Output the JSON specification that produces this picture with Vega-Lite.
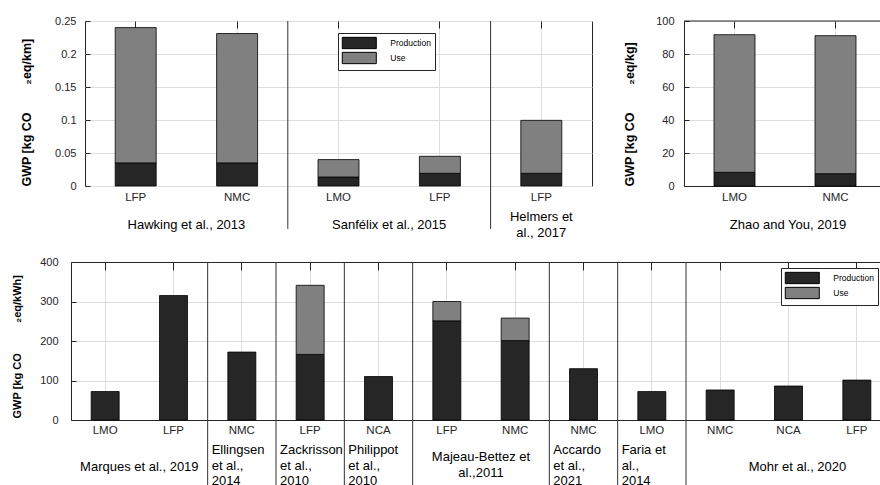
{
  "$schema": "https://vega.github.io/schema/vega-lite/v6.json",
  "padding": {"left": 11, "top": 14, "right": 0, "bottom": 0},
  "background": "white",
  "config": {
    "font": "Liberation Sans",
    "view": {"stroke": null},
    "axis": {"labelFont": "Liberation Sans", "titleFont": "Liberation Sans", "labelColor": "#262626", "titleColor": "#000000", "gridColor": "#dedede", "gridWidth": 1, "domainColor": "#262626", "tickColor": "#262626"},
    "legend": {"labelFont": "Liberation Sans"}
  },
  "datasets": {
    "tl": [
      {"key": "Hawking|LFP", "part": "Production", "v": 0.035},
      {"key": "Hawking|LFP", "part": "Use", "v": 0.205},
      {"key": "Hawking|NMC", "part": "Production", "v": 0.035},
      {"key": "Hawking|NMC", "part": "Use", "v": 0.196},
      {"key": "Sanfelix|LMO", "part": "Production", "v": 0.0136},
      {"key": "Sanfelix|LMO", "part": "Use", "v": 0.0264},
      {"key": "Sanfelix|LFP", "part": "Production", "v": 0.0192},
      {"key": "Sanfelix|LFP", "part": "Use", "v": 0.0258},
      {"key": "Helmers|LFP", "part": "Production", "v": 0.0192},
      {"key": "Helmers|LFP", "part": "Use", "v": 0.0803}
    ],
    "tlSep": [{"key": "Sanfelix|LMO"}, {"key": "Helmers|LFP"}],
    "tlG": [
      {"key": "Hawking|NMC", "g": "Hawking et al., 2013", "n": 2},
      {"key": "Sanfelix|LFP", "g": "Sanfélix et al., 2015", "n": 2},
      {"key": "Helmers|LFP", "g": "Helmers et\nal., 2017", "n": 1}
    ],
    "tr": [
      {"key": "Zhao|LMO", "part": "Production", "v": 8.3},
      {"key": "Zhao|LMO", "part": "Use", "v": 83.4},
      {"key": "Zhao|NMC", "part": "Production", "v": 7.5},
      {"key": "Zhao|NMC", "part": "Use", "v": 83.6}
    ],
    "trG": [{"key": "Zhao|NMC", "g": "Zhao and You, 2019", "n": 2}],
    "bt": [
      {"key": "Marques|LMO", "part": "Production", "v": 72},
      {"key": "Marques|LFP", "part": "Production", "v": 315},
      {"key": "Ellingsen|NMC", "part": "Production", "v": 172},
      {"key": "Zackrisson|LFP", "part": "Production", "v": 166},
      {"key": "Zackrisson|LFP", "part": "Use", "v": 175},
      {"key": "Philippot|NCA", "part": "Production", "v": 110},
      {"key": "Majeau|LFP", "part": "Production", "v": 251},
      {"key": "Majeau|LFP", "part": "Use", "v": 49},
      {"key": "Majeau|NMC", "part": "Production", "v": 201},
      {"key": "Majeau|NMC", "part": "Use", "v": 57},
      {"key": "Accardo|NMC", "part": "Production", "v": 130},
      {"key": "Faria|LMO", "part": "Production", "v": 72},
      {"key": "Mohr|NMC", "part": "Production", "v": 76},
      {"key": "Mohr|NCA", "part": "Production", "v": 86},
      {"key": "Mohr|LFP", "part": "Production", "v": 101}
    ],
    "btSep": [{"key": "Ellingsen|NMC"}, {"key": "Zackrisson|LFP"}, {"key": "Philippot|NCA"}, {"key": "Majeau|LFP"}, {"key": "Accardo|NMC"}, {"key": "Faria|LMO"}, {"key": "Mohr|NMC"}],
    "btG": [
      {"key": "Marques|LFP", "g": "Marques et al., 2019", "n": 2},
      {"key": "Ellingsen|NMC", "g": "Ellingsen\net al.,\n2014", "n": 1},
      {"key": "Zackrisson|LFP", "g": "Zackrisson\net al.,\n2010", "n": 1},
      {"key": "Philippot|NCA", "g": "Philippot\net al.,\n2010", "n": 1},
      {"key": "Majeau|NMC", "g": "Majeau-Bettez et\nal.,2011              ", "n": 2},
      {"key": "Accardo|NMC", "g": "Accardo\net al.,\n2021", "n": 1},
      {"key": "Faria|LMO", "g": "Faria et\nal.,\n2014", "n": 1},
      {"key": "Mohr|NCA", "g": "Mohr et al., 2020", "n": 3}
    ]
  },
  "resolve": {"legend": {"color": "independent"}, "scale": {"color": "independent"}},
  "spacing": 15,
  "vconcat": [
    {
      "spacing": 30,
      "resolve": {"legend": {"color": "independent"}, "scale": {"color": "independent"}},
      "hconcat": [
        {
          "width": 507,
          "height": 165,
          "view": {"stroke": "#262626"},
          "resolve": {"axis": {"x": "independent", "y": "independent"}},
          "layer": [
            {
              "data": {"name": "tl"},
              "mark": {"type": "bar", "size": 41, "stroke": "#000000", "strokeWidth": 0.8},
              "encoding": {
                "x": {"field": "key", "type": "nominal",
                  "scale": {"domain": ["Hawking|LFP", "Hawking|NMC", "Sanfelix|LMO", "Sanfelix|LFP", "Helmers|LFP"], "paddingInner": 0, "paddingOuter": 0},
                  "axis": {"orient": "bottom", "title": null, "labelExpr": "split(datum.label, '|')[1]", "labelAngle": 0, "labelPadding": 5, "labelFontSize": 11.5, "ticks": false, "domain": false, "grid": true}},
                "y": {"field": "v", "type": "quantitative", "stack": "zero",
                  "scale": {"domain": [0, 0.25], "nice": false},
                  "axis": {"values": [0, 0.05, 0.1, 0.15, 0.2, 0.25], "format": ".2~f", "labelOverlap": false, "labelFontSize": 11, "labelPadding": 9, "ticks": false, "domain": false, "grid": true,
                    "title": "GWP [kg CO\u00a0\u00a0\u00a0\u00a0\u00a0\u00a0\u00a0\u00a0\u2082eq/km]", "titleFontSize": 12.5, "titleFontWeight": "bold", "titleX": -59, "titleY": 165, "titleAlign": "left", "titleAngle": -90, "titleBaseline": "middle"}},
                "color": {"field": "part", "type": "nominal",
                  "scale": {"domain": ["Production", "Use"], "range": ["#262626", "#808080"]},
                  "legend": {"orient": "none", "legendX": 253, "legendY": 12, "title": null, "symbolType": "M-3,-1H3V1H-3Z", "symbolSize": 128.5, "symbolOffset": 11.3, "symbolStrokeColor": "#000000", "symbolStrokeWidth": 1, "labelFontSize": 8.5, "labelColor": "#000000", "labelOffset": 24.5, "strokeColor": "#262626", "fillColor": "#ffffff", "padding": 3.5, "rowPadding": -3.5, "labelExpr": "datum.label + '\u00a0\u00a0\u00a0\u00a0\u00a0\u00a0\u00a0\u00a0\u00a0\u00a0\u00a0\u00a0\u00a0\u00a0\u00a0\u00a0\u00a0'"}},
                "order": {"field": "part", "sort": "ascending"}
              }
            },
            {
              "data": {"name": "tlSep"},
              "mark": {"type": "rule", "color": "#333333", "strokeWidth": 1},
              "encoding": {
                "x": {"field": "key", "type": "nominal", "bandPosition": 0, "axis": null},
                "y": {"datum": 0.25,
                  "axis": {"orient": "left", "values": [0, 0.05, 0.1, 0.15, 0.2, 0.25], "title": null, "labels": false, "ticks": true, "tickSize": 5, "offset": -5, "domain": false, "grid": false}},
                "y2": {"datum": -0.065}
              }
            },
            {
              "data": {"name": "tlG"},
              "transform": [{"filter": "datum.n == 2"}],
              "mark": {"type": "text", "align": "center", "baseline": "middle", "fontSize": 13, "color": "#000000", "dy": 39},
              "encoding": {
                "x": {"field": "key", "type": "nominal", "bandPosition": 0,
                  "axis": {"orient": "top", "title": null, "labels": false, "ticks": true, "tickSize": 7, "offset": -7, "tickColor": "#262626", "domain": false, "grid": false}},
                "y": {"value": "height"},
                "text": {"field": "g"}
              }
            },
            {
              "data": {"name": "tlG"},
              "transform": [{"filter": "datum.n == 1"}],
              "mark": {"type": "text", "align": "center", "baseline": "middle", "fontSize": 13, "color": "#000000", "dy": 31, "lineBreak": "\n", "lineHeight": 16},
              "encoding": {
                "x": {"field": "key", "type": "nominal", "bandPosition": 0.5, "axis": null},
                "y": {"value": "height"},
                "text": {"field": "g"}
              }
            }
          ]
        },
        {
          "width": 196,
          "height": 165,
          "resolve": {"axis": {"x": "independent", "y": "independent"}},
          "layer": [
            {
              "data": {"name": "tr"},
              "mark": {"type": "bar", "size": 41, "stroke": "#000000", "strokeWidth": 0.8},
              "encoding": {
                "x": {"field": "key", "type": "nominal",
                  "scale": {"domain": ["Zhao|LMO", "Zhao|NMC"], "range": [0, 202], "paddingInner": 0, "paddingOuter": 0},
                  "axis": {"orient": "bottom", "title": null, "labelExpr": "split(datum.label, '|')[1]", "labelAngle": 0, "labelPadding": 5, "labelFontSize": 11.5, "ticks": false, "domain": true, "grid": true}},
                "y": {"field": "v", "type": "quantitative", "stack": "zero",
                  "scale": {"domain": [0, 100], "nice": false},
                  "axis": {"values": [0, 20, 40, 60, 80, 100], "format": "d", "labelOverlap": false, "labelFontSize": 11, "labelPadding": 10, "ticks": false, "domain": true, "grid": true,
                    "title": "GWP [kg CO\u00a0\u00a0\u00a0\u00a0\u00a0\u00a0\u00a0\u00a0\u2082eq/kg]", "titleFontSize": 12.5, "titleFontWeight": "bold", "titleX": -55, "titleY": 165, "titleAlign": "left", "titleAngle": -90, "titleBaseline": "middle"}},
                "color": {"field": "part", "type": "nominal",
                  "scale": {"domain": ["Production", "Use"], "range": ["#262626", "#808080"]},
                  "legend": null},
                "order": {"field": "part", "sort": "ascending"}
              }
            },
            {
              "data": {"values": [{}]},
              "mark": {"type": "rule", "color": "#262626", "strokeWidth": 1},
              "encoding": {"y": {"datum": 100,
                "axis": {"orient": "left", "values": [0, 20, 40, 60, 80, 100], "title": null, "labels": false, "ticks": true, "tickSize": 5, "offset": -5, "domain": false, "grid": false}}}
            },
            {
              "data": {"name": "trG"},
              "mark": {"type": "text", "align": "center", "baseline": "middle", "fontSize": 13, "color": "#000000", "dy": 39, "dx": 3},
              "encoding": {
                "x": {"field": "key", "type": "nominal", "bandPosition": 0,
                  "axis": {"orient": "top", "title": null, "labels": false, "ticks": true, "tickSize": 7, "offset": -7, "tickColor": "#262626", "domain": false, "grid": false}},
                "y": {"value": "height"},
                "text": {"field": "g"}
              }
            }
          ]
        }
      ]
    },
    {
      "width": 795,
      "height": 158,
      "resolve": {"axis": {"x": "independent", "y": "independent"}},
      "layer": [
        {
          "data": {"name": "bt"},
          "mark": {"type": "bar", "size": 28, "stroke": "#000000", "strokeWidth": 0.8},
          "encoding": {
            "x": {"field": "key", "type": "nominal",
              "scale": {"domain": ["Marques|LMO", "Marques|LFP", "Ellingsen|NMC", "Zackrisson|LFP", "Philippot|NCA", "Majeau|LFP", "Majeau|NMC", "Accardo|NMC", "Faria|LMO", "Mohr|NMC", "Mohr|NCA", "Mohr|LFP"], "range": [-14, 806], "paddingInner": 0, "paddingOuter": 0},
              "axis": {"orient": "bottom", "title": null, "labelExpr": "split(datum.label, '|')[1]", "labelAngle": 0, "labelPadding": 4.5, "labelFontSize": 11.5, "ticks": false, "domain": true, "grid": true}},
            "y": {"field": "v", "type": "quantitative", "stack": "zero",
              "scale": {"domain": [0, 400], "nice": false},
              "axis": {"values": [0, 100, 200, 300, 400], "format": "d", "labelOverlap": false, "labelFontSize": 11, "labelPadding": 13, "ticks": false, "domain": true, "grid": true, "offset": 14,
                "title": "GWP [kg CO\u00a0\u00a0\u00a0\u00a0\u00a0\u00a0\u00a0\u00a0\u00a0\u00a0\u2082eq/kWh]", "titleFontSize": 11, "titleFontWeight": "bold", "titleX": -54, "titleY": 156, "titleAlign": "left", "titleAngle": -90, "titleBaseline": "middle"}},
            "color": {"field": "part", "type": "nominal",
              "scale": {"domain": ["Production", "Use"], "range": ["#262626", "#808080"]},
              "legend": {"orient": "none", "legendX": 696, "legendY": 6, "title": null, "symbolType": "M-3,-1H3V1H-3Z", "symbolSize": 128.5, "symbolOffset": 11.3, "symbolStrokeColor": "#000000", "symbolStrokeWidth": 1, "labelFontSize": 8.5, "labelColor": "#000000", "labelOffset": 24.5, "strokeColor": "#262626", "fillColor": "#ffffff", "padding": 3.5, "rowPadding": -3.5, "labelExpr": "datum.label + '\u00a0\u00a0\u00a0\u00a0\u00a0\u00a0\u00a0\u00a0\u00a0\u00a0\u00a0\u00a0\u00a0\u00a0\u00a0\u00a0\u00a0'"}},
            "order": {"field": "part", "sort": "ascending"}
          }
        },
        {
          "data": {"name": "btSep"},
          "mark": {"type": "rule", "color": "#333333", "strokeWidth": 1},
          "encoding": {
            "x": {"field": "key", "type": "nominal", "bandPosition": 0,
              "axis": {"orient": "top", "title": null, "labels": false, "ticks": false, "domain": true, "grid": false}},
            "y": {"datum": 400,
              "axis": {"orient": "left", "values": [0, 100, 200, 300, 400], "title": null, "labels": false, "ticks": true, "tickSize": 5, "offset": 9, "domain": false, "grid": false}},
            "y2": {"datum": -165}
          }
        },
        {
          "data": {"name": "btG"},
          "transform": [{"filter": "datum.n == 2 && indexof(datum.g, '\\n') < 0"}],
          "mark": {"type": "text", "align": "center", "baseline": "middle", "fontSize": 13, "color": "#000000", "dy": 46.5},
          "encoding": {
            "x": {"field": "key", "type": "nominal", "bandPosition": 0,
              "axis": {"orient": "top", "title": null, "labels": false, "ticks": true, "tickSize": 8, "offset": -8, "tickColor": "#262626", "domain": false, "grid": false}},
            "y": {"value": "height"},
            "text": {"field": "g"}
          }
        },
        {
          "data": {"name": "btG"},
          "transform": [{"filter": "datum.n == 2 && indexof(datum.g, '\\n') >= 0"}],
          "mark": {"type": "text", "align": "center", "baseline": "middle", "fontSize": 13, "color": "#000000", "dy": 37.3, "lineBreak": "\n", "lineHeight": 16},
          "encoding": {
            "x": {"field": "key", "type": "nominal", "bandPosition": 0, "axis": null},
            "y": {"value": "height"},
            "text": {"field": "g"}
          }
        },
        {
          "data": {"name": "btG"},
          "transform": [{"filter": "datum.n == 1"}],
          "mark": {"type": "text", "align": "left", "baseline": "middle", "fontSize": 13, "color": "#000000", "dy": 30, "dx": 4, "lineBreak": "\n", "lineHeight": 15.5},
          "encoding": {
            "x": {"field": "key", "type": "nominal", "bandPosition": 0, "axis": null},
            "y": {"value": "height"},
            "text": {"field": "g"}
          }
        },
        {
          "data": {"name": "btG"},
          "transform": [{"filter": "datum.n == 3"}],
          "mark": {"type": "text", "align": "center", "baseline": "middle", "fontSize": 13, "color": "#000000", "dy": 46.5, "dx": 9},
          "encoding": {
            "x": {"field": "key", "type": "nominal", "bandPosition": 0.5, "axis": null},
            "y": {"value": "height"},
            "text": {"field": "g"}
          }
        }
      ]
    }
  ]
}
